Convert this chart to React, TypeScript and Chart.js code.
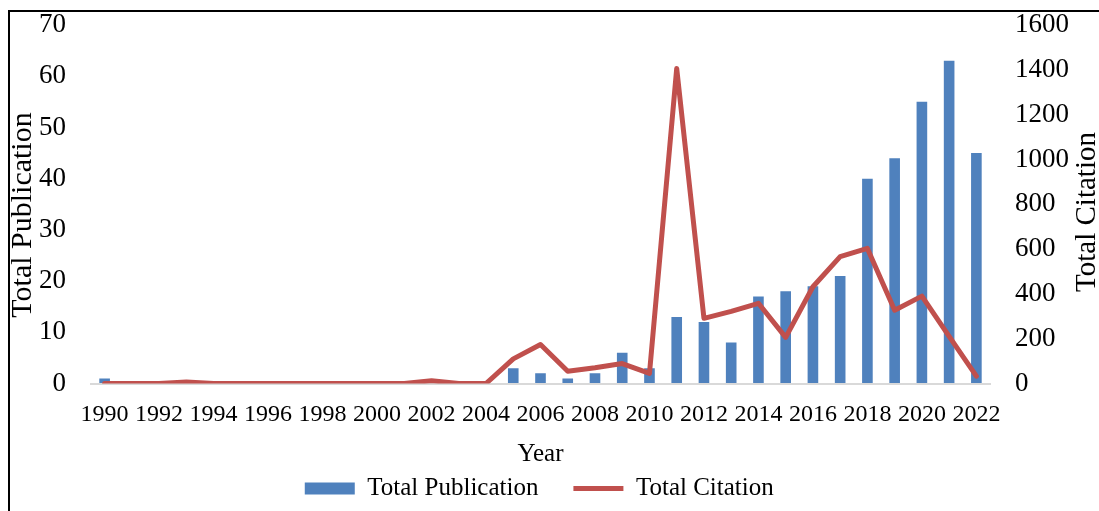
import React, { useEffect, useRef } from "react";
import { Chart, registerables } from "chart.js";

Chart.register(...registerables);

const years = [
  "1990", "1991", "1992", "1993", "1994", "1995", "1996", "1997", "1998", "1999",
  "2000", "2001", "2002", "2003", "2004", "2005", "2006", "2007", "2008", "2009",
  "2010", "2011", "2012", "2013", "2014", "2015", "2016", "2017", "2018", "2019",
  "2020", "2021", "2022",
];

const totalPublication = [
  1, 0, 0, 0, 0, 0, 0, 0, 0, 0,
  0, 0, 0, 0, 0, 3, 2, 1, 2, 6,
  3, 13, 12, 8, 17, 18, 19, 21, 40, 44,
  55, 63, 45,
];

const totalCitation = [
  0, 0, 0, 7, 0, 0, 0, 0, 0, 0,
  0, 0, 12, 0, 0, 110, 174, 55, 70, 89,
  45, 1406, 291, 322, 358, 206, 432, 566, 603, 327,
  390, 210, 33,
];

const publicationAxis = { min: 0, max: 70, step: 10 };
const citationAxis = { min: 0, max: 1600, step: 200 };

const seriesNames = ["Total Publication", "Total Citation"];
const axisTitles = { x: "Year", left: "Total Publication", right: "Total Citation" };

const SERIF = '"Liberation Serif", "Times New Roman", serif';
const BLUE = "#4F81BD";
const RED = "#C0504D";
const CLEAR = "rgba(0,0,0,0)";

const sideTitles = {
  id: "sideTitles",
  afterDraw(chart: any) {
    const ctx = chart.ctx as CanvasRenderingContext2D;
    ctx.save();
    ctx.fillStyle = "#000";
    ctx.textAlign = "center";
    ctx.textBaseline = "middle";
    ctx.font = `30px ${SERIF}`;
    ctx.translate(23, 215);
    ctx.rotate(-Math.PI / 2);
    ctx.fillText(axisTitles.left, 0, 0);
    ctx.restore();

    ctx.save();
    ctx.fillStyle = "#000";
    ctx.textAlign = "center";
    ctx.textBaseline = "middle";
    ctx.font = `29px ${SERIF}`;
    ctx.translate(1087, 212);
    ctx.rotate(-Math.PI / 2);
    ctx.fillText(axisTitles.right, 0, 0);
    ctx.restore();
  },
};

export default function App() {
  const canvasRef = useRef<HTMLCanvasElement | null>(null);

  useEffect(() => {
    if (!canvasRef.current) return;
    const chart = new Chart(canvasRef.current, {
      type: "bar",
      data: {
        labels: years,
        datasets: [
          {
            type: "bar",
            label: seriesNames[0],
            data: totalPublication,
            backgroundColor: BLUE,
            borderWidth: 0,
            yAxisID: "y",
            barPercentage: 0.39,
            categoryPercentage: 1,
            order: 1,
          } as any,
          {
            type: "line",
            label: seriesNames[1],
            data: totalCitation,
            borderColor: RED,
            backgroundColor: RED,
            borderWidth: 5,
            pointRadius: 0,
            tension: 0,
            fill: false,
            borderJoinStyle: "round",
            borderCapStyle: "round",
            yAxisID: "y1",
            order: 0,
          } as any,
        ],
      },
      options: {
        responsive: false,
        animation: false,
        events: [],
        devicePixelRatio: 1,
        layout: { padding: { top: 25, right: 20.5, left: 0, bottom: 0 } },
        scales: {
          x: {
            type: "category",
            offset: true,
            grid: { display: false, drawTicks: false },
            border: { display: true, color: "#D9D9D9", width: 2 },
            ticks: {
              autoSkip: false,
              maxRotation: 0,
              minRotation: 0,
              padding: 17,
              color: "#000",
              font: { family: SERIF, size: 24 },
              callback: (_v: any, i: number) => (i % 2 === 0 ? years[i] : ""),
            },
            title: {
              display: true,
              text: axisTitles.x,
              color: "#000",
              font: { family: SERIF, size: 25 },
              padding: { top: 0, bottom: -28 },
            },
            afterFit: (s: any) => {
              s.height = 57.5;
            },
          },
          y: {
            position: "left",
            min: publicationAxis.min,
            max: publicationAxis.max,
            grid: {
              display: true,
              drawOnChartArea: false,
              drawTicks: true,
              tickLength: 25,
              tickColor: CLEAR,
              color: CLEAR,
            },
            border: { display: false },
            ticks: {
              stepSize: publicationAxis.step,
              padding: 0,
              color: "#000",
              font: { family: SERIF, size: 27 },
            },
            afterFit: (s: any) => {
              s.width = 91;
            },
          },
          y1: {
            position: "right",
            min: citationAxis.min,
            max: citationAxis.max,
            grid: {
              display: true,
              drawOnChartArea: false,
              drawTicks: true,
              tickLength: 25,
              tickColor: CLEAR,
              color: CLEAR,
            },
            border: { display: false },
            ticks: {
              stepSize: citationAxis.step,
              padding: 0,
              color: "#000",
              font: { family: SERIF, size: 27 },
              callback: (v: any) => String(v),
            },
            afterFit: (s: any) => {
              s.width = 88.5;
            },
          },
        },
        plugins: {
          tooltip: { enabled: false },
          legend: {
            display: true,
            position: "bottom",
            labels: {
              usePointStyle: true,
              pointStyleWidth: 50,
              boxHeight: 12,
              padding: 35,
              color: "#000",
              font: { family: SERIF, size: 25 },
              sort: (a: any, b: any) => a.datasetIndex - b.datasetIndex,
              generateLabels: (c: any) => {
                const items = Chart.defaults.plugins.legend.labels.generateLabels(c);
                return items.map((it: any) => ({
                  ...it,
                  pointStyle: it.datasetIndex === 0 ? "rect" : "line",
                }));
              },
            },
          },
        },
      } as any,
      plugins: [sideTitles],
    });
    return () => chart.destroy();
  }, []);

  return (
    <div style={{ position: "fixed", inset: 0, overflow: "hidden", background: "#fff" }}>
      <canvas
        ref={canvasRef}
        width={1099}
        height={511}
        style={{ position: "absolute", left: 0, top: 0, width: 1099, height: 511, display: "block" }}
      />
      <div
        style={{
          position: "absolute",
          left: 8,
          top: 10,
          width: 1200,
          height: 700,
          borderTop: "2px solid #000",
          borderLeft: "2px solid #000",
          pointerEvents: "none",
        }}
      />
    </div>
  );
}
